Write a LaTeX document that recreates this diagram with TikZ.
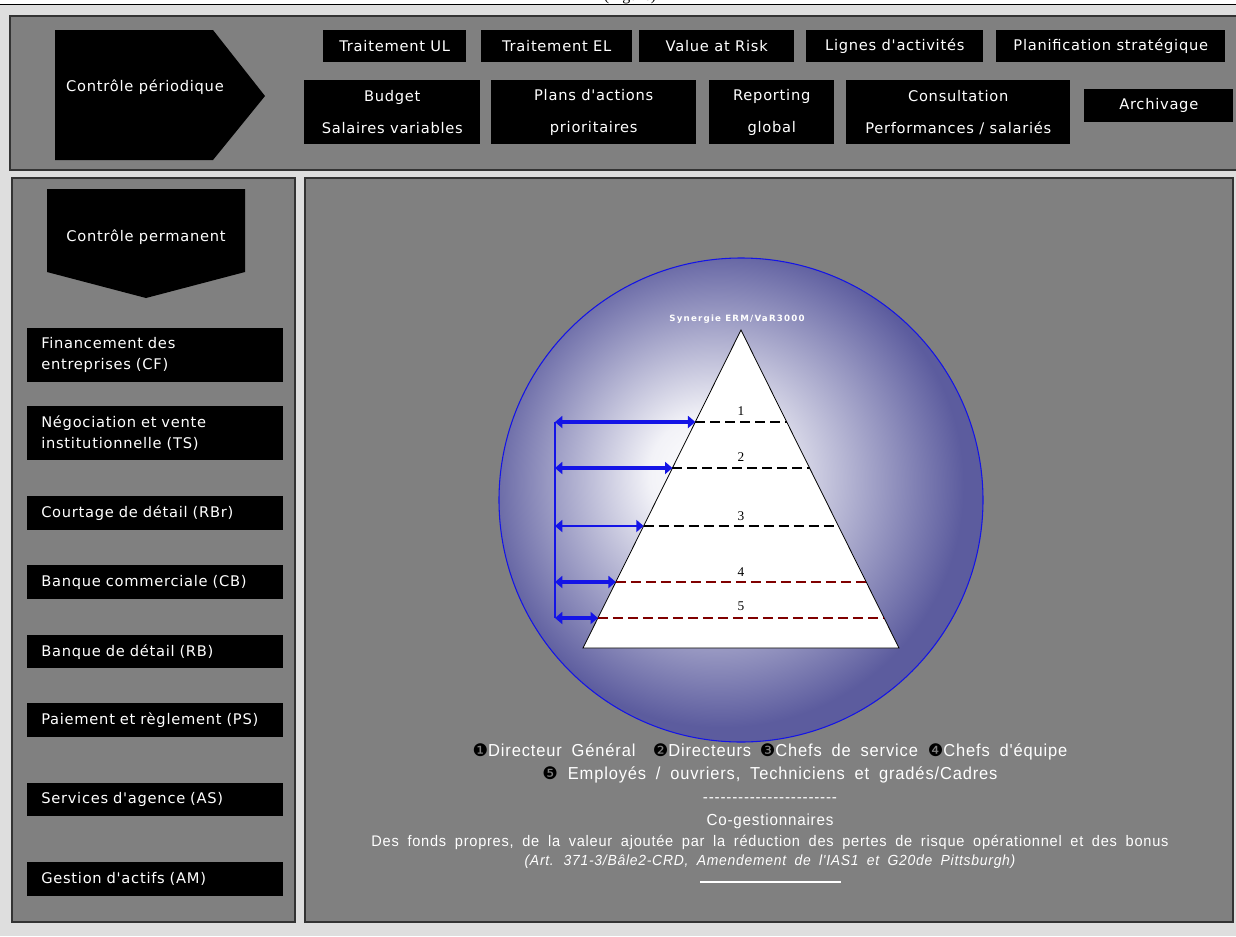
\documentclass[tikz,border=0pt]{standalone}
\usepackage{fontspec}
\setmainfont{Liberation Sans}
\newfontfamily\boxfont[LetterSpace=5,Ligatures=TeXOff]{DejaVu Sans}
\newfontfamily\notefont[FakeStretch=0.95,LetterSpace=5,WordSpace=1.8,Ligatures=TeXOff]{Liberation Sans}
\newfontfamily\dingfont{DejaVu Sans}
\newfontfamily\serfont{Liberation Serif}
\usetikzlibrary{arrows.meta}

\definecolor{bgpale}{RGB}{222,222,222}
\definecolor{panelgray}{RGB}{128,128,128}
\definecolor{ballblue}{RGB}{92,92,158}
\definecolor{darkred}{RGB}{128,0,0}
\definecolor{linkblue}{RGB}{20,20,230}
\pgfdeclareradialshading{ballshade}{\pgfpoint{-4bp}{3bp}}{color(0bp)=(white); color(6bp)=(white!92!ballblue); color(25bp)=(ballblue); color(50bp)=(ballblue)}

\tikzset{
  panel/.style={fill=panelgray, draw=black!80, line width=1.5pt},
  blackbox/.style={fill=black, text=white, anchor=north west, inner sep=0pt, align=center,
    font=\boxfont\fontsize{11}{24}\selectfont},
  sidebox/.style={blackbox, align=left, text width=171pt, inner xsep=10.5pt,
    minimum width=192pt, font=\boxfont\fontsize{11}{15.5}\selectfont},
  wh/.style 2 args={minimum width=#1*0.75pt, minimum height=#2*0.75pt},
  level/.style={dash pattern=on 7.5pt off 3.75pt, line width=1.5pt},
  link/.style={linkblue, line width=3pt, {Triangle[length=5.5pt,width=9pt]}-{Triangle[length=5.5pt,width=9pt]}},
  note/.style={text=white, inner sep=0pt, font=\notefont\fontsize{12}{14}\selectfont},
  num/.style={inner sep=0pt, font=\serfont\fontsize{10}{11}\selectfont},
}
\newcommand{\dg}[1]{{\dingfont\color{black}#1}}

\begin{document}
\begin{tikzpicture}[x=0.75pt, y=-0.75pt]
  \useasboundingbox (0,0) rectangle (1236,936);
  \fill[bgpale] (0,0) rectangle (1236,936);
  \fill[white] (0,0) rectangle (1236,4);
  \draw[line width=0.8pt] (0,4.5) -- (1236,4.5);
  \node[anchor=base, inner sep=0pt, font=\serfont\fontsize{12}{14}\selectfont] (figcap) at (630,0) {(Figure)};

  % panels
  \draw[panel] (10,16) rectangle (1250,170);
  \draw[panel] (12,178) rectangle (295,922);
  \draw[panel] (305,178) rectangle (1233,922);

  % controle periodique
  \fill (55,30) -- (213,30) -- (265,96) -- (213,160) -- (55,160) -- cycle;
  \node[text=white, font=\boxfont\fontsize{11}{12}\selectfont] (cper) at (145,87) {Contrôle périodique};

  \node[blackbox, wh={143}{32}] (tul) at (323,30) {Traitement UL};
  \node[blackbox, wh={151}{32}] (tel) at (481,30) {Traitement EL};
  \node[blackbox, wh={155}{32}] (var) at (639,30) {Value at Risk};
  \node[blackbox, wh={177}{32}] (lig) at (806,30) {Lignes d'activités};
  \node[blackbox, wh={229}{32}] (plan) at (996,30) {Planification stratégique};

  \node[blackbox, wh={176}{64}] (bud) at (304,80) {Budget\\Salaires variables};
  \node[blackbox, wh={205}{64}] (pla) at (491,80) {Plans d'actions\\prioritaires};
  \node[blackbox, wh={125}{64}] (rep) at (709,80) {Reporting\\global};
  \node[blackbox, wh={224}{64}] (con) at (846,80) {Consultation\\Performances / salariés};
  \node[blackbox, wh={149}{33}] (arc) at (1084,89) {Archivage};

  % controle permanent
  \fill (47,189) -- (245,189) -- (245,272) -- (146,298) -- (47,272) -- cycle;
  \node[text=white, font=\boxfont\fontsize{11}{12}\selectfont] (cperm) at (146,237) {Contrôle permanent};

  \node[sidebox, minimum height=54*0.75pt] (cf) at (27,328) {Financement des\\entreprises (CF)};
  \node[sidebox, minimum height=54*0.75pt] (ts) at (27,406) {Négociation et vente\\institutionnelle (TS)};
  \node[sidebox, minimum height=34*0.75pt] (rbr) at (27,496) {Courtage de détail (RBr)};
  \node[sidebox, minimum height=34*0.75pt] (cb) at (27,565) {Banque commerciale (CB)};
  \node[sidebox, minimum height=33*0.75pt] (rb) at (27,635) {Banque de détail (RB)};
  \node[sidebox, minimum height=34*0.75pt] (ps) at (27,703) {Paiement et règlement (PS)};
  \node[sidebox, minimum height=33*0.75pt] (as) at (27,783) {Services d'agence (AS)};
  \node[sidebox, minimum height=34*0.75pt] (am) at (27,862) {Gestion d'actifs (AM)};

  % sphere and pyramid
  \shade[shading=ballshade] (741,500) circle[radius=181.5pt];
  \draw[linkblue, line width=0.8pt] (741,500) circle[radius=181.5pt];
  \node[text=white, font=\boxfont\bfseries\fontsize{6.5}{8}\selectfont\addfontfeature{LetterSpace=14}] (syn) at (737,319) {Synergie ERM/VaR3000};

  \coordinate (apex) at (741,330);
  \coordinate (baseL) at (583,648);
  \coordinate (baseR) at (899,648);
  \filldraw[fill=white, draw=black, line width=0.6pt] (apex) -- (baseR) -- (baseL) -- cycle;

  \coordinate (l1) at (695.3,422); \coordinate (r1) at (786.7,422);
  \coordinate (l2) at (672.4,468); \coordinate (r2) at (809.6,468);
  \coordinate (l3) at (643.6,526); \coordinate (r3) at (838.4,526);
  \coordinate (l4) at (615.8,582); \coordinate (r4) at (866.2,582);
  \coordinate (l5) at (597.9,618); \coordinate (r5) at (884.1,618);

  \draw[level] (l1) -- (r1);
  \draw[level] (l2) -- (r2);
  \draw[level] (l3) -- (r3);
  \draw[level, darkred] (l4) -- (r4);
  \draw[level, darkred, line width=0.8pt] (l5) -- (r5);

  \node[num] (n1) at (741,411) {1};
  \node[num] (n2) at (741,457) {2};
  \node[num] (n3) at (741,516) {3};
  \node[num] (n4) at (741,572) {4};
  \node[num] (n5) at (741,606) {5};

  % links to the levels
  \foreach \i in {1,...,5} \coordinate (v\i) at (555,0 |- l\i);
  \draw[linkblue, line width=1.2pt] (v1) -- (v5);
  \draw[link] (v1) -- (l1);
  \draw[link] (v2) -- (l2);
  \draw[link, line width=1.8pt] (v3) -- (l3);
  \draw[link] (v4) -- (l4);
  \draw[link] (v5) -- (l5);

  % legend
  \node[note, font=\notefont\fontsize{13}{15}\selectfont] (t1) at (770,752) {\dg{❶}Directeur Général\quad\dg{❷}Directeurs\enspace\dg{❸}Chefs de service \dg{❹}Chefs d'équipe};
  \node[note, font=\notefont\fontsize{13}{15}\selectfont] (t2) at (770,775) {\dg{❺} Employés / ouvriers, Techniciens et gradés/Cadres};
  \node[note] (t3) at (770,800) {-----------------------};
  \node[note] (t4) at (770,821) {Co-gestionnaires};
  \node[note, font=\notefont\fontsize{11.5}{14}\selectfont] (t5) at (770,842) {Des fonds propres, de la valeur ajoutée par la réduction des pertes de risque opérationnel et des bonus};
  \node[note, font=\notefont\itshape\fontsize{11}{13}\selectfont] (t6) at (770,862) {(Art. 371-3/Bâle2-CRD, Amendement de l'IAS1 et G20de Pittsburgh)};
  \coordinate (u1) at (700,882);
  \coordinate (u2) at (841,882);
  \draw[white, line width=1pt] (u1) -- (u2);
\end{tikzpicture}
\end{document}
